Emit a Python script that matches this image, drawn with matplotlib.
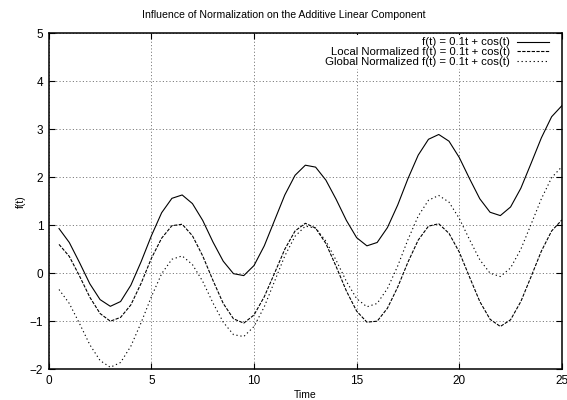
import matplotlib
matplotlib.use("Agg")
import matplotlib.pyplot as plt

plt.rcParams['font.family'] = ['Liberation Sans', 'DejaVu Sans']
plt.rcParams['lines.scale_dashes'] = False

t = [0.5, 1.0, 1.5, 2.0, 2.5, 3.0, 3.5, 4.0, 4.5, 5.0,
     5.5, 6.0, 6.5, 7.0, 7.5, 8.0, 8.5, 9.0, 9.5, 10.0,
     10.5, 11.0, 11.5, 12.0, 12.5, 13.0, 13.5, 14.0, 14.5, 15.0,
     15.5, 16.0, 16.5, 17.0, 17.5, 18.0, 18.5, 19.0, 19.5, 20.0,
     20.5, 21.0, 21.5, 22.0, 22.5, 23.0, 23.5, 24.0, 24.5, 25.0]

raw = [0.93, 0.64, 0.22, -0.22, -0.55, -0.69, -0.59, -0.25, 0.24, 0.78,
       1.26, 1.56, 1.63, 1.45, 1.10, 0.65, 0.25, -0.01, -0.05, 0.16,
       0.57, 1.10, 1.63, 2.04, 2.25, 2.21, 1.94, 1.54, 1.10, 0.74,
       0.57, 0.64, 0.95, 1.42, 1.97, 2.46, 2.79, 2.89, 2.75, 2.41,
       1.97, 1.55, 1.27, 1.20, 1.38, 1.77, 2.29, 2.82, 3.26, 3.49]

local_norm = [0.60, 0.35, -0.06, -0.50, -0.84, -1.00, -0.92, -0.66, -0.21, 0.31,
              0.73, 0.99, 1.02, 0.78, 0.36, -0.15, -0.63, -0.95, -1.04, -0.87,
              -0.49, 0.00, 0.50, 0.88, 1.04, 0.94, 0.62, 0.14, -0.37, -0.79,
              -1.02, -1.00, -0.73, -0.29, 0.23, 0.69, 0.98, 1.03, 0.83, 0.44,
              -0.08, -0.59, -0.96, -1.11, -0.97, -0.59, -0.07, 0.46, 0.88, 1.11]

global_norm = [-0.34, -0.63, -1.05, -1.49, -1.82, -1.96, -1.86, -1.52, -1.03, -0.49,
               -0.01, 0.29, 0.36, 0.18, -0.17, -0.62, -1.02, -1.28, -1.32, -1.11,
               -0.70, -0.17, 0.36, 0.77, 0.98, 0.94, 0.67, 0.27, -0.17, -0.53,
               -0.70, -0.63, -0.32, 0.15, 0.70, 1.19, 1.52, 1.62, 1.48, 1.14,
               0.70, 0.28, 0.00, -0.07, 0.11, 0.50, 1.02, 1.55, 1.99, 2.22]

labels = ["f(t) = 0.1t + cos(t)",
          "Local Normalized f(t) = 0.1t + cos(t)",
          "Global Normalized f(t) = 0.1t + cos(t)"]

fig = plt.figure(figsize=(5.67, 4.0), dpi=100)
ax = fig.add_axes([0.086, 0.077, 0.905, 0.840])

lw = 0.8
ax.plot(t, raw, color="black", lw=lw, label=labels[0])
ax.plot(t, local_norm, color="black", lw=lw, linestyle=(0, (2.4, 1.0)), label=labels[1])
ax.plot(t, global_norm, color="black", lw=lw, linestyle=(0, (0.9, 2.0)), label=labels[2])

ax.set_xlim(0, 25)
ax.set_ylim(-2, 5)
ax.set_xticks(range(0, 26, 5))
ax.set_yticks(range(-2, 6))
ax.grid(True, color="#444444", linestyle=(0, (0.8, 1.6)), linewidth=0.5)

ax.tick_params(direction="in", length=4, width=0.8, top=True, right=True,
               labelsize=8.5, pad=4)
for s in ax.spines.values():
    s.set_linewidth(1.1)

# title is centred on the figure, as in the reference
fig.text(0.5, 0.962, "Influence of Normalization on the Additive Linear Component",
         ha="center", va="center", fontsize=7.6)
ax.set_xlabel("Time", fontsize=7.5, labelpad=2)
ax.set_ylabel("f(t)", fontsize=7.5, labelpad=3)

# key box blanks the grid behind it (gnuplot style), no visible border
leg = ax.legend(loc="upper right", bbox_to_anchor=(0.979, 0.994),
                frameon=True, fancybox=False, facecolor="white",
                edgecolor="none", framealpha=1.0, markerfirst=False,
                fontsize=8.2, handlelength=2.8, handletextpad=0.6,
                labelspacing=-0.02, borderpad=0.2, borderaxespad=0)

fig.savefig("out.png", dpi=100)
